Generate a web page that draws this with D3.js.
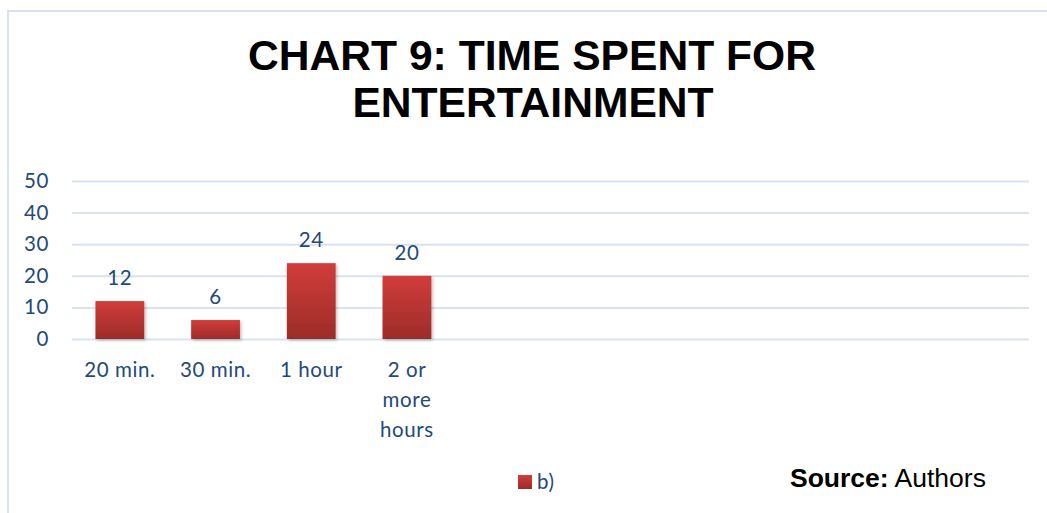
<!DOCTYPE html>
<html>
<head>
<meta charset="utf-8">
<script src="https://cdn.jsdelivr.net/npm/d3@7"></script>
<style>
  body { margin: 0; background: #fff; }
  svg { display: block; }
  .lbl { font-family: Lato, "Open Sans", sans-serif; font-size: 20.5px; letter-spacing: 0.6px; }
</style>
</head>
<body>
<div id="chart"></div>
<script>
// Chart data
const categories = ['20 min.', '30 min.', '1 hour', '2 or more hours'];
const values = [12, 6, 24, 20];
const slotCount = 10; // the category axis keeps room for 10 slots, only 4 are used
const yTicks = [0, 10, 20, 30, 40, 50];
const seriesName = 'b)';

const W = 1047;
const H = 513;
const plot = { left: 72, right: 1029, top: 181, bottom: 339 };
const labelColor = '#23497a';
const gridColor = '#d8e3f2';

const svg = d3
  .select('#chart')
  .append('svg')
  .attr('width', W)
  .attr('height', H);

const defs = svg.append('defs');
const barGrad = defs
  .append('linearGradient')
  .attr('id', 'barGrad')
  .attr('x1', 0).attr('y1', 0)
  .attr('x2', 0).attr('y2', 1);
barGrad.append('stop').attr('offset', '0%').attr('stop-color', '#d13d3a');
barGrad.append('stop').attr('offset', '100%').attr('stop-color', '#9c2c29');

const shadow = defs.append('filter').attr('id', 'shadow')
  .attr('x', '-20%').attr('y', '-20%').attr('width', '140%').attr('height', '140%');
shadow.append('feDropShadow')
  .attr('dx', 1.5).attr('dy', 1.5).attr('stdDeviation', 1.5)
  .attr('flood-color', '#000').attr('flood-opacity', 0.25);

// Frame
svg
  .append('path')
  .attr('d', `M8,${H} V11 H${W}`)
  .attr('fill', 'none')
  .attr('stroke', '#d6e2f2')
  .attr('stroke-width', 2);

// Title
const title = svg
  .append('text')
  .attr('text-anchor', 'middle')
  .style('font-family', '"Liberation Sans", Arial, sans-serif')
  .style('font-weight', 'bold')
  .style('font-size', '42.6px')
  .attr('fill', '#000');
title.append('tspan').attr('x', 532).attr('y', 70).text('CHART 9: TIME SPENT FOR');
title.append('tspan').attr('x', 533).attr('y', 117).text('ENTERTAINMENT');

// Scales
const x = d3
  .scaleBand()
  .domain(d3.range(slotCount))
  .range([plot.left, plot.right])
  .paddingInner(0.49)
  .paddingOuter(0.245);

const y = d3
  .scaleLinear()
  .domain([0, 50])
  .range([plot.bottom, plot.top]);

// Gridlines + y labels
const yAxis = svg
  .append('g')
  .attr('transform', `translate(${plot.left},0)`)
  .call(
    d3.axisLeft(y)
      .tickValues(yTicks)
      .tickSize(-(plot.right - plot.left))
      .tickPadding(23)
  );
yAxis.attr('font-size', null).attr('font-family', null);
yAxis.select('.domain').remove();
yAxis.selectAll('line')
  .attr('stroke', gridColor)
  .attr('stroke-width', 2);
yAxis.selectAll('text')
  .attr('class', 'lbl')
  .attr('fill', labelColor);

// Category axis
const xAxis = svg
  .append('g')
  .attr('transform', `translate(0,${plot.bottom})`)
  .call(
    d3.axisBottom(x)
      .tickSize(0)
      .tickPadding(23)
      .tickFormat((i) => categories[i] || '')
  );
xAxis.attr('font-size', null).attr('font-family', null);
xAxis.select('.domain').remove();
xAxis.selectAll('text')
  .attr('class', 'lbl')
  .attr('fill', labelColor)
  .call(wrap, 80);

function wrap(texts, width) {
  texts.each(function () {
    const text = d3.select(this);
    const words = text.text().split(/\s+/).filter((w) => w);
    if (!words.length) return;
    const yPos = text.attr('y');
    const dy = parseFloat(text.attr('dy')) || 0;
    text.text(null);
    let line = [];
    let lineNo = 0;
    let tspan = text.append('tspan').attr('x', 0).attr('y', yPos).attr('dy', dy + 'em');
    words.forEach((word) => {
      line.push(word);
      tspan.text(line.join(' '));
      if (tspan.node().getComputedTextLength() > width && line.length > 1) {
        line.pop();
        tspan.text(line.join(' '));
        line = [word];
        lineNo += 1;
        tspan = text
          .append('tspan')
          .attr('x', 0)
          .attr('y', yPos)
          .attr('dy', lineNo * 1.47 + dy + 'em')
          .text(word);
      }
    });
  });
}

// Bars
svg
  .selectAll('.bar')
  .data(values)
  .enter()
  .append('rect')
  .attr('class', 'bar')
  .attr('x', (d, i) => x(i))
  .attr('y', (d) => y(d))
  .attr('width', x.bandwidth())
  .attr('height', (d) => y(0) - y(d))
  .attr('fill', 'url(#barGrad)')
  .attr('filter', 'url(#shadow)');

// Value labels
svg
  .selectAll('.value')
  .data(values)
  .enter()
  .append('text')
  .attr('class', 'value lbl')
  .attr('x', (d, i) => x(i) + x.bandwidth() / 2)
  .attr('y', (d) => y(d) - 16)
  .attr('text-anchor', 'middle')
  .attr('fill', labelColor)
  .text((d) => d);

// Legend
const legend = svg.append('g').attr('transform', 'translate(518,475)');
legend
  .append('rect')
  .attr('width', 14)
  .attr('height', 14)
  .attr('fill', 'url(#barGrad)');
legend
  .append('text')
  .attr('class', 'lbl')
  .attr('x', 19)
  .attr('y', 14)
  .attr('fill', labelColor)
  .text(seriesName);

// Source
const source = svg
  .append('text')
  .attr('x', 790)
  .attr('y', 487)
  .style('font-family', '"Liberation Sans", Arial, sans-serif')
  .style('font-size', '26.5px')
  .attr('fill', '#000');
source.append('tspan').style('font-weight', 'bold').text('Source:');
source.append('tspan').text(' Authors');
</script>
</body>
</html>
